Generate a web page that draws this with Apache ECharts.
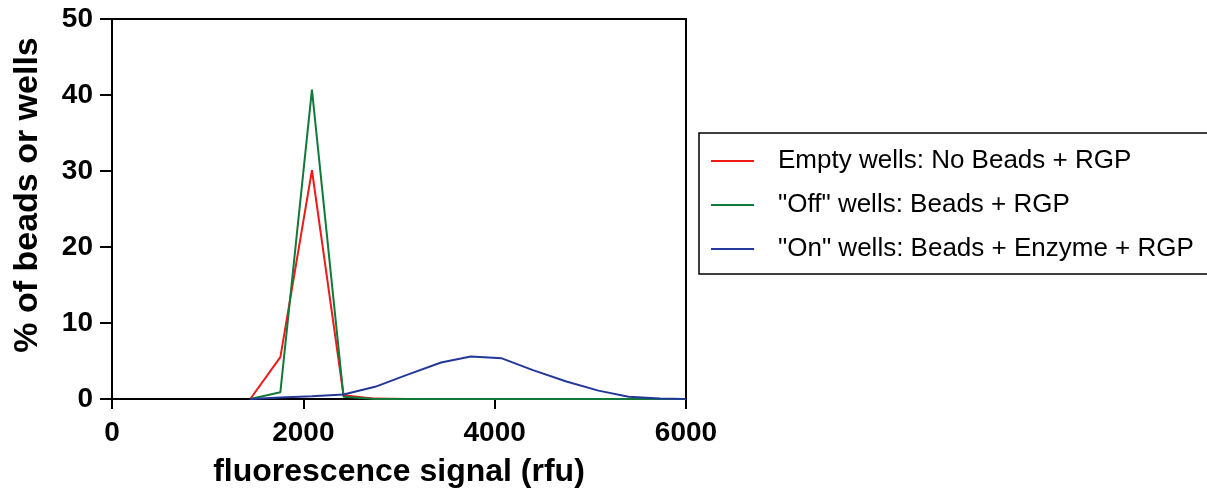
<!DOCTYPE html>
<html>
<head>
<meta charset="utf-8">
<script src="https://cdn.jsdelivr.net/npm/echarts@6/dist/echarts.min.js"></script>
<style>
html,body{margin:0;padding:0;background:#fff;}
#chart{width:1207px;height:494px;}
</style>
</head>
<body>
<div id="chart"></div>
<script>
// bin centres (rfu)
var xBins = [1445, 1760, 2090, 2420, 2750, 3090, 3440, 3750, 4075, 4400, 4750, 5085, 5400, 5730, 6000];
var emptyWells = [0, 5.5, 30.1, 0.5, 0.05, 0, 0, 0, 0, 0, 0, 0, 0, 0, 0];
var offWells   = [0, 0.9, 40.7, 0.3, 0, 0, 0, 0, 0, 0, 0, 0, 0, 0, 0];
var onWells    = [0, 0.2, 0.35, 0.6, 1.6, 3.2, 4.8, 5.6, 5.35, 3.8, 2.3, 1.1, 0.3, 0.05, 0];
var seriesNames = ['Empty wells: No Beads + RGP', '"Off" wells: Beads + RGP', '"On" wells: Beads + Enzyme + RGP'];
var xTitle = 'fluorescence signal (rfu)';
var yTitle = '% of beads or wells';

function pairs(ys){ return xBins.map(function(x,i){ return [x, ys[i]]; }); }

var FONT = "'Liberation Sans', Arial, sans-serif";
var chart = echarts.init(document.getElementById('chart'));
var axisLine = {show:true, lineStyle:{color:'#000', width:2}};
chart.setOption({
  animation:false,
  backgroundColor:'#fff',
  grid:{left:112, right:521, top:19, bottom:95, show:true, borderColor:'#000', borderWidth:2,
        backgroundColor:'transparent', containLabel:false, outerBoundsMode:'none'},
  xAxis:{
    type:'value', min:0, max:6000, interval:2000,
    axisLine:axisLine,
    axisTick:{show:true, length:10, lineStyle:{color:'#000', width:2}},
    splitLine:{show:false},
    axisLabel:{color:'#000', fontFamily:FONT, fontWeight:'bold', fontSize:28, margin:20,
               formatter:function(v){ return String(v); }},
    name:xTitle, nameLocation:'middle', nameGap:57,
    nameTextStyle:{color:'#000', fontFamily:FONT, fontWeight:'bold', fontSize:32}
  },
  yAxis:{
    type:'value', min:0, max:50, interval:10,
    axisLine:axisLine,
    axisTick:{show:true, length:12, lineStyle:{color:'#000', width:2}},
    splitLine:{show:false},
    axisLabel:{color:'#000', fontFamily:FONT, fontWeight:'bold', fontSize:28, margin:19}
  },
  legend:{
    orient:'vertical', left:699, top:133,
    data:seriesNames,
    icon:'rect',
    backgroundColor:'#fff',
    borderColor:'#000', borderWidth:1.5, borderRadius:0,
    padding:[13, 60, 10, 12],
    itemWidth:43, itemHeight:2, itemGap:14,
    textStyle:{color:'#000', fontFamily:FONT, fontSize:26, lineHeight:30, padding:[0,0,0,19]}
  },
  graphic:[{
    type:'text', x:28, y:195, rotation:Math.PI/2,
    style:{text:yTitle, fill:'#000', font:'bold 34px ' + FONT, textAlign:'center', textVerticalAlign:'middle'}
  }],
  series:[
    {name:seriesNames[0], type:'line', data:pairs(emptyWells), symbol:'none', lineStyle:{color:'#f01a1a', width:2}, itemStyle:{color:'#f01a1a'}, z:2},
    {name:seriesNames[1], type:'line', data:pairs(offWells), symbol:'none', lineStyle:{color:'#12793a', width:2}, itemStyle:{color:'#12793a'}, z:3},
    {name:seriesNames[2], type:'line', data:pairs(onWells), symbol:'none', lineStyle:{color:'#24389a', width:2}, itemStyle:{color:'#24389a'}, z:4}
  ]
});
</script>
</body>
</html>
